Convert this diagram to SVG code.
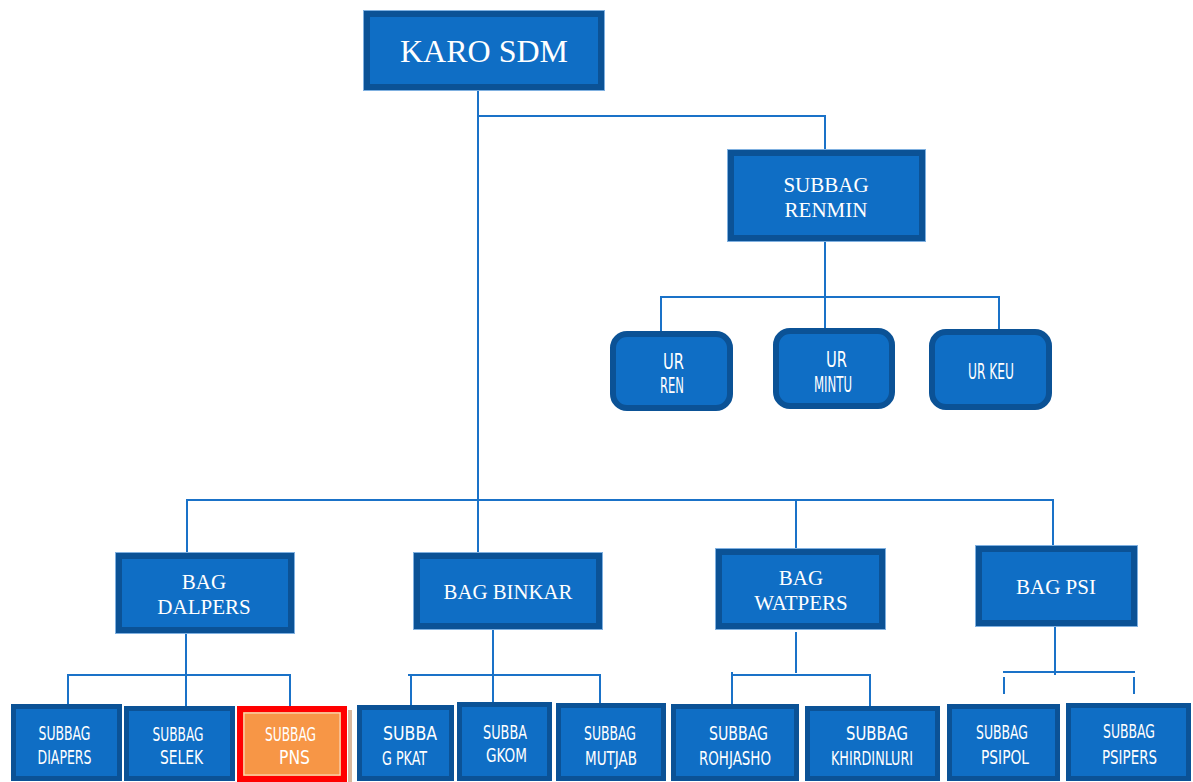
<svg xmlns="http://www.w3.org/2000/svg" width="1193" height="782" viewBox="0 0 1193 782">
<style>
.box{fill:#0F6EC5;stroke:#0B5296;stroke-width:6}
.bx5{fill:#0F6EC5;stroke:#0B5296;stroke-width:5}
.edge{fill:none;stroke:#7FB0E0;stroke-width:1}
.ln{fill:none;stroke:#1A72C8;stroke-width:2}
.serif{font-family:"Liberation Serif","Times New Roman",serif;fill:#FFFFFF;text-anchor:middle}
.sans{font-family:"Liberation Sans Narrow","DejaVu Sans Condensed","Liberation Sans",sans-serif;fill:#FFFFFF}
.s18{font-size:19.5px}
.s19{font-size:20.5px}
</style>
<rect width="1193" height="782" fill="#FFFFFF"/>
<g id="connectors">
<path class="ln" d="M478 90V553"/>
<path class="ln" d="M478 116H825V150"/>
<path class="ln" d="M825 241V330"/>
<path class="ln" d="M661 331V297H999V329"/>
<path class="ln" d="M187 553V500H1053V546"/>
<path class="ln" d="M796 500V549"/>
<path class="ln" d="M186 633V706"/>
<path class="ln" d="M68 704V675H290V706"/>
<path class="ln" d="M493 629V703"/>
<path class="ln" d="M408 675H600V704"/>
<path class="ln" d="M411 675V705"/>
<path class="ln" d="M796 632V673"/>
<path class="ln" d="M732 704V672"/>
<path class="ln" d="M731 675H870V706"/>
<path class="ln" d="M1055 626V675"/>
<path class="ln" d="M1003 672H1135"/>
<path class="ln" d="M1004 677V694"/>
<path class="ln" d="M1134 677V694"/>
</g>
<g id="karo-sdm">
<rect class="edge" x="363.5" y="10.5" width="241" height="80"/>
<rect class="box" x="367" y="14" width="234" height="73"/>
<text class="serif" x="484" y="62" font-size="32">KARO SDM</text>
</g>
<g id="subbag-renmin">
<rect class="edge" x="727.5" y="149.5" width="198" height="92"/>
<rect class="box" x="731" y="153" width="191" height="85"/>
<text class="serif" x="826" y="192" font-size="21">SUBBAG</text>
<text class="serif" x="826" y="217" font-size="21">RENMIN</text>
</g>
<g id="ur-ren">
<rect class="box" x="613" y="334" width="117" height="74" rx="14"/>
<text class="sans s19" x="663" y="369" textLength="21" lengthAdjust="spacingAndGlyphs">UR</text>
<text class="sans s19" x="660" y="393" textLength="24" lengthAdjust="spacingAndGlyphs">REN</text>
</g>
<g id="ur-mintu">
<rect class="box" x="776" y="331" width="116" height="75" rx="14"/>
<text class="sans s19" x="826" y="367" textLength="21" lengthAdjust="spacingAndGlyphs">UR</text>
<text class="sans s19" x="814" y="392" textLength="38" lengthAdjust="spacingAndGlyphs">MINTU</text>
</g>
<g id="ur-keu">
<rect class="box" x="932" y="332" width="117" height="75" rx="14"/>
<text class="sans s19" x="968" y="379" textLength="46" lengthAdjust="spacingAndGlyphs">UR KEU</text>
</g>
<g id="bag-dalpers">
<rect class="edge" x="115.5" y="552.5" width="179" height="81"/>
<rect class="box" x="119" y="556" width="172" height="74"/>
<text class="serif" x="204" y="589" font-size="21">BAG</text>
<text class="serif" x="204" y="614" font-size="21">DALPERS</text>
</g>
<g id="bag-binkar">
<rect class="edge" x="413.5" y="552.5" width="189" height="77"/>
<rect class="box" x="417" y="556" width="182" height="70"/>
<text class="serif" x="508" y="599" font-size="21" textLength="129" lengthAdjust="spacingAndGlyphs">BAG BINKAR</text>
</g>
<g id="bag-watpers">
<rect class="edge" x="715.5" y="548.5" width="170" height="81"/>
<rect class="box" x="719" y="552" width="163" height="74"/>
<text class="serif" x="801" y="585" font-size="21">BAG</text>
<text class="serif" x="801" y="610" font-size="21">WATPERS</text>
</g>
<g id="bag-psi">
<rect class="edge" x="975.5" y="545.5" width="162" height="81"/>
<rect class="box" x="979" y="549" width="155" height="74"/>
<text class="serif" x="1056" y="594" font-size="21" textLength="80" lengthAdjust="spacingAndGlyphs">BAG PSI</text>
</g>
<g id="subbag-diapers">
<rect class="bx5" x="13.5" y="706.5" width="106" height="72"/>
<text class="sans s18" x="38.5" y="740" textLength="52" lengthAdjust="spacingAndGlyphs">SUBBAG</text>
<text class="sans s18" x="37.5" y="764" textLength="54" lengthAdjust="spacingAndGlyphs">DIAPERS</text>
</g>
<g id="subbag-selek">
<rect class="bx5" x="126.5" y="708.5" width="106" height="70"/>
<text class="sans s18" x="152.5" y="741" textLength="51" lengthAdjust="spacingAndGlyphs">SUBBAG</text>
<text class="sans s18" x="160" y="764" textLength="43" lengthAdjust="spacingAndGlyphs">SELEK</text>
</g>
<g id="subbag-pns">
<rect x="348" y="710" width="4" height="72" fill="#D8B89E"/>
<rect x="240" y="709" width="104" height="70" fill="#F79646" stroke="#FF0000" stroke-width="6"/>
<rect x="244" y="713" width="96" height="62" fill="none" stroke="#FBE3D0" stroke-width="1"/>
<text class="sans s18" x="265" y="741" textLength="51" lengthAdjust="spacingAndGlyphs">SUBBAG</text>
<text class="sans s18" x="279" y="764" textLength="31" lengthAdjust="spacingAndGlyphs">PNS</text>
</g>
<g id="subbag-gpkat">
<rect class="bx5" x="359.5" y="707.5" width="92" height="71"/>
<text class="sans s18" x="383" y="740" textLength="54" lengthAdjust="spacingAndGlyphs">SUBBA</text>
<text class="sans s18" x="382" y="765" textLength="45" lengthAdjust="spacingAndGlyphs">G PKAT</text>
</g>
<g id="subbag-gkom">
<rect class="bx5" x="459.5" y="704.5" width="90" height="74"/>
<text class="sans s18" x="483" y="739" textLength="44" lengthAdjust="spacingAndGlyphs">SUBBA</text>
<text class="sans s18" x="486" y="762" textLength="41" lengthAdjust="spacingAndGlyphs">GKOM</text>
</g>
<g id="subbag-mutjab">
<rect class="bx5" x="558.5" y="705.5" width="105" height="73"/>
<text class="sans s18" x="584" y="740" textLength="52" lengthAdjust="spacingAndGlyphs">SUBBAG</text>
<text class="sans s18" x="585" y="765" textLength="52" lengthAdjust="spacingAndGlyphs">MUTJAB</text>
</g>
<g id="subbag-rohjasho">
<rect class="bx5" x="673.5" y="706.5" width="123" height="72"/>
<text class="sans s18" x="709" y="740" textLength="59" lengthAdjust="spacingAndGlyphs">SUBBAG</text>
<text class="sans s18" x="699" y="765" textLength="72" lengthAdjust="spacingAndGlyphs">ROHJASHO</text>
</g>
<g id="subbag-khirdinluri">
<rect class="bx5" x="807.5" y="708.5" width="130" height="70"/>
<text class="sans s18" x="846" y="740" textLength="62" lengthAdjust="spacingAndGlyphs">SUBBAG</text>
<text class="sans s18" x="831" y="765" textLength="82" lengthAdjust="spacingAndGlyphs">KHIRDINLURI</text>
</g>
<g id="subbag-psipol">
<rect class="bx5" x="949.5" y="706.5" width="108" height="72"/>
<text class="sans s18" x="976" y="739" textLength="52" lengthAdjust="spacingAndGlyphs">SUBBAG</text>
<text class="sans s18" x="981" y="764" textLength="48" lengthAdjust="spacingAndGlyphs">PSIPOL</text>
</g>
<g id="subbag-psipers">
<rect class="bx5" x="1068.5" y="705.5" width="120" height="73"/>
<text class="sans s18" x="1103" y="738" textLength="52" lengthAdjust="spacingAndGlyphs">SUBBAG</text>
<text class="sans s18" x="1102" y="764" textLength="55" lengthAdjust="spacingAndGlyphs">PSIPERS</text>
</g>
</svg>
